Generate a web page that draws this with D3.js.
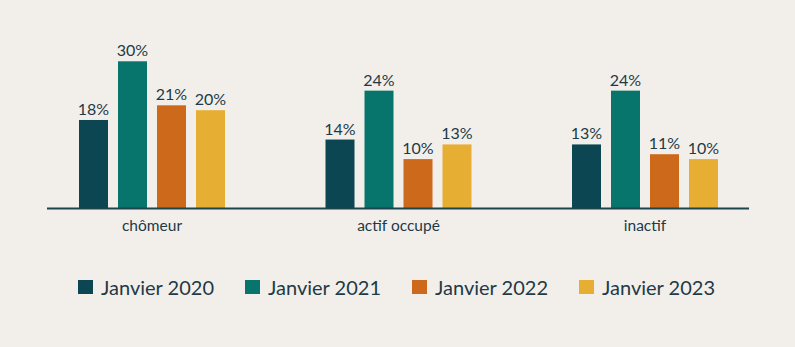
<!DOCTYPE html>
<html>
<head>
<meta charset="utf-8">
<script src="https://cdn.jsdelivr.net/npm/d3@7"></script>
<style>
  html, body { margin: 0; padding: 0; background: #f2efeb; }
  svg { display: block; }
  text { font-family: Lato, "Open Sans", sans-serif; }
</style>
</head>
<body>
<svg id="chart" width="795" height="347"></svg>
<script>
// Statut d'activité : part par catégorie, janvier 2020 à janvier 2023
const categories = ["chômeur", "actif occupé", "inactif"];
const series = ["Janvier 2020", "Janvier 2021", "Janvier 2022", "Janvier 2023"];
const values2020 = [18, 14, 13];
const values2021 = [30, 24, 24];
const values2022 = [21, 10, 11];
const values2023 = [20, 13, 10];
const colors = ["#0b4652", "#08756d", "#cd691b", "#e6ae33"];

const seriesValues = [values2020, values2021, values2022, values2023];
const rows = [];
categories.forEach((c, i) => {
  series.forEach((s, j) => rows.push({ category: c, series: s, value: seriesValues[j][i], color: colors[j] }));
});

const svg = d3.select("#chart");
const textColor = "#1e3a46";

const x0 = d3.scaleBand().domain(categories).range([28.75, 768.25]).padding(0);
const groupWidth = 146;
const x1 = d3.scaleBand().domain(series).range([0, groupWidth]).paddingInner(10 / 39).paddingOuter(0);
const y = d3.scaleLinear().domain([0, 30]).range([208, 61.3]);

const groupLeft = c => x0(c) + x0.bandwidth() / 2 - groupWidth / 2;

// Barres
svg.append("g").selectAll("rect")
  .data(rows)
  .join("rect")
  .attr("x", d => groupLeft(d.category) + x1(d.series))
  .attr("y", d => y(d.value))
  .attr("width", x1.bandwidth())
  .attr("height", d => y(0) - y(d.value))
  .attr("fill", d => d.color);

// Étiquettes de valeur
svg.append("g").selectAll("text")
  .data(rows)
  .join("text")
  .attr("x", d => groupLeft(d.category) + x1(d.series) + x1.bandwidth() / 2)
  .attr("y", d => y(d.value) - 5)
  .attr("text-anchor", "middle")
  .attr("font-size", 16)
  .attr("fill", textColor)
  .text(d => d.value + "%");

// Axe horizontal
const xAxis = d3.axisBottom(x0).tickSize(0).tickPadding(12);
const axisG = svg.append("g").attr("transform", `translate(0,${y(0)})`).call(xAxis);
axisG.select(".domain").remove();
axisG.selectAll("text").attr("font-size", 15.5).attr("fill", textColor)
  .style("font-family", "Lato, 'Open Sans', sans-serif");
svg.append("line")
  .attr("x1", 47).attr("x2", 749)
  .attr("y1", y(0) + 0.5).attr("y2", y(0) + 0.5)
  .attr("stroke", "#1c4550").attr("stroke-width", 2);

// Légende
const legend = svg.append("g").attr("transform", "translate(78,280)");
const item = legend.selectAll("g")
  .data(series)
  .join("g")
  .attr("transform", (d, i) => `translate(${i * 167},0)`);
item.append("rect").attr("width", 15).attr("height", 14).attr("fill", (d, i) => colors[i]);
item.append("text")
  .attr("x", 23).attr("y", 14.5)
  .attr("font-size", 20)
  .attr("fill", textColor)
  .text(d => d);
</script>
</body>
</html>
